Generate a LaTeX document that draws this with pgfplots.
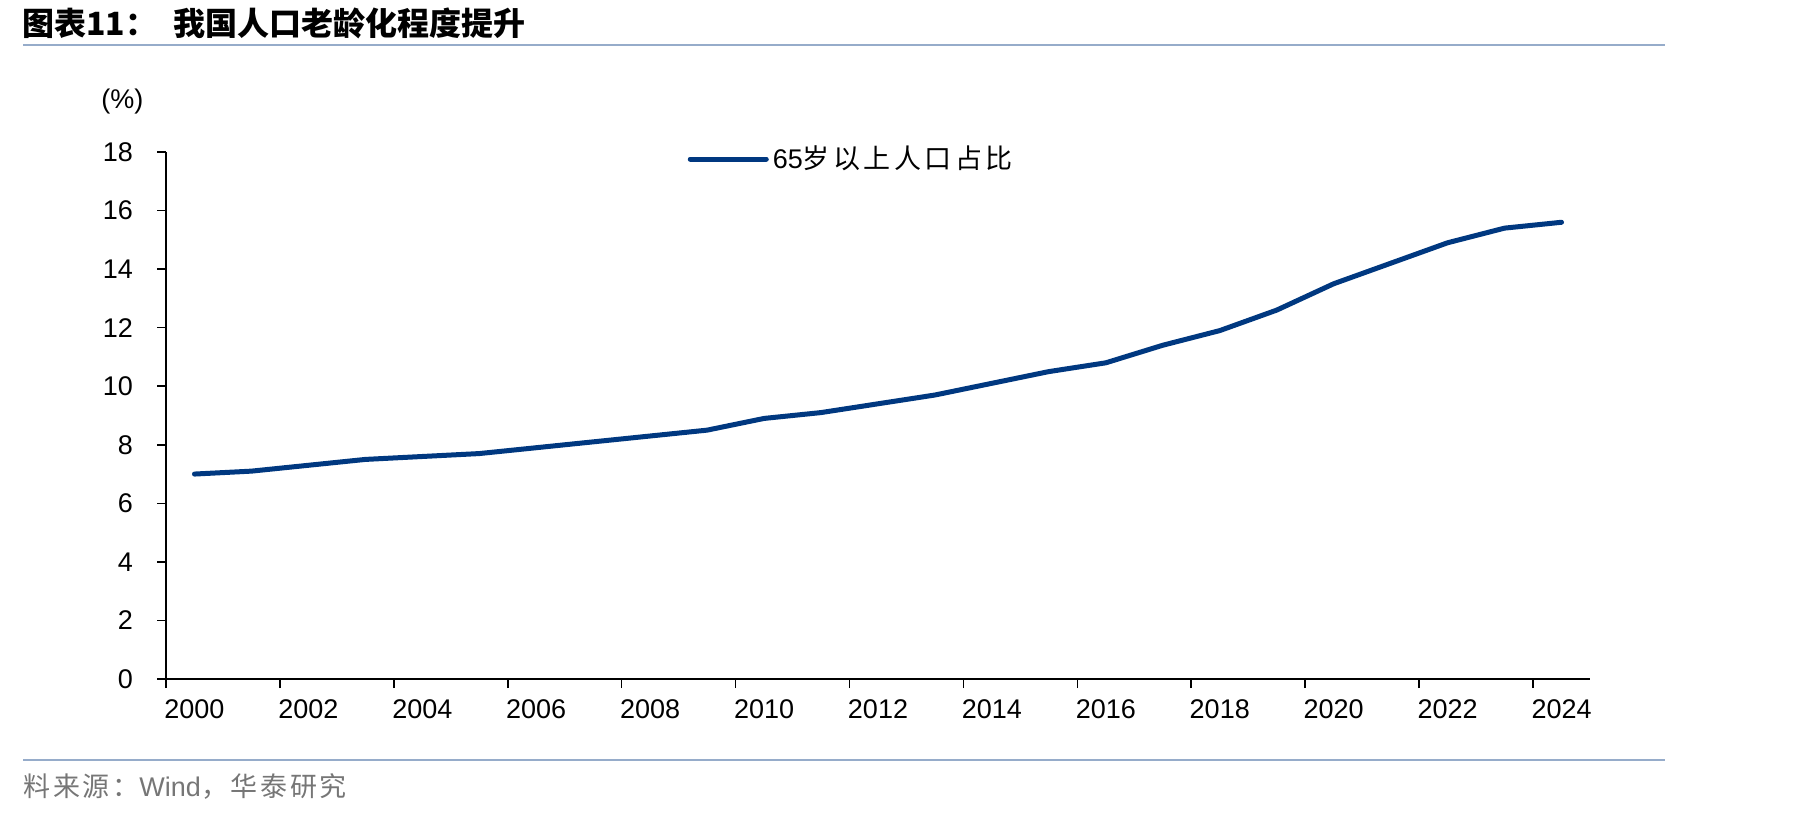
\documentclass[border=0pt]{standalone}
\usepackage{fontspec}
\setmainfont{Liberation Sans}
\newfontfamily\cjk{Noto Sans CJK SC}
\newfontfamily\cjkl[LetterSpace=13]{Noto Sans CJK SC}
\newfontfamily\cjks[LetterSpace=10]{Noto Sans CJK SC}
\usepackage{pgfplots}
\pgfplotsset{compat=1.18}
\definecolor{lineblue}{RGB}{0,56,128}
\definecolor{rulecol}{RGB}{150,172,202}
\definecolor{srcgray}{RGB}{118,118,118}
\begin{document}
\begin{tikzpicture}[x=0.5pt,y=0.5pt]
\path[use as bounding box] (0,0) rectangle (1819,816);
\node[anchor=west, inner sep=0pt, font=\cjk\bfseries\fontsize{16}{19}\selectfont] at (22,816-23) {图表\textbf{11}：\hspace{8pt}我国人口老龄化程度提升};
\draw[rulecol, line width=1.4pt] (23,816-45) -- (1665,816-45);
\draw[rulecol, line width=1.4pt] (23,816-760) -- (1665,816-760);
\node[anchor=west, inner sep=0pt, text=srcgray, font=\fontsize{13.5}{16}\selectfont] at (23,816-787) {{\cjks 料来源：}Wind{\cjks ，华泰研究}};
\node[anchor=west, inner sep=0pt, font=\fontsize{13.5}{16}\selectfont] at (101,816-102) {(\%)};
\begin{axis}[
  at={(83pt,68.5pt)}, anchor=south west,
  width=712pt, height=263.5pt, scale only axis,
  xmin=1999.5, xmax=2024.5, ymin=0, ymax=18,
  ytick={0,2,...,18},
  xtick={1999.5,2001.5,...,2023.5},
  xticklabels={},
  extra x ticks={2000,2002,...,2024},
  extra x tick labels={2000,2002,2004,2006,2008,2010,2012,2014,2016,2018,2020,2022,2024},
  extra x tick style={major tick length=0pt, tick label style={yshift=-7pt}},
  axis lines=left,
  axis line style={-, line width=0.8pt, black},
  tick align=outside,
  major tick length=4.5pt,
  tick style={black, line width=0.8pt},
  tick label style={font=\fontsize{13.5}{16}\selectfont},
  yticklabel style={xshift=-8.5pt},
  /pgf/number format/assume math mode=true,
  /pgf/number format/1000 sep={},
  legend style={draw=none, fill=none, inner sep=0pt, outer sep=0pt,
    at={(axis cs:2008.66,17.76)}, anchor=west,
    font=\fontsize{13.5}{16}\selectfont},
  legend cell align=left,
  legend image code/.code={\draw[#1, line cap=round] (0pt,0pt) -- (38pt,0pt);},
  clip=false,
]
\addplot[color=lineblue, line width=2.5pt, line join=round, line cap=round] coordinates {
(2000,7.0) (2001,7.1) (2002,7.3) (2003,7.5) (2004,7.6) (2005,7.7) (2006,7.9) (2007,8.1) (2008,8.3) (2009,8.5) (2010,8.9) (2011,9.1) (2012,9.4) (2013,9.7) (2014,10.1) (2015,10.5) (2016,10.8) (2017,11.4) (2018,11.9) (2019,12.6) (2020,13.5) (2021,14.2) (2022,14.9) (2023,15.4) (2024,15.6)
};
\addlegendentry{65{\cjkl 岁以上人口占比}}
\end{axis}
\end{tikzpicture}
\end{document}
